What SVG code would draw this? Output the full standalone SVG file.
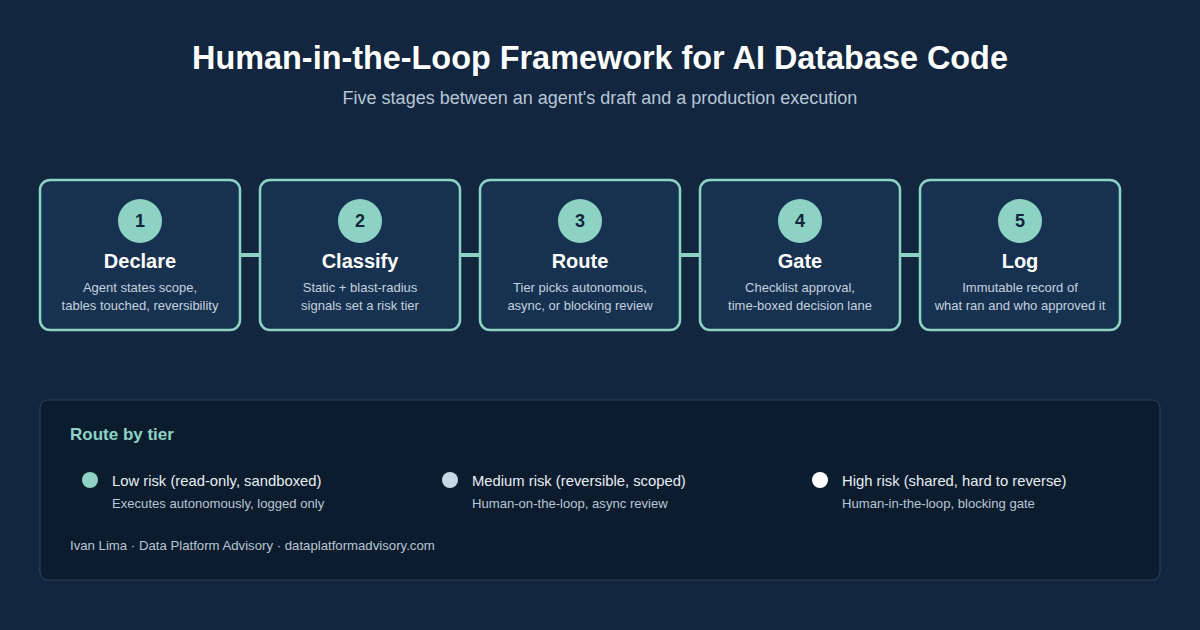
<svg xmlns="http://www.w3.org/2000/svg" width="1200" height="630" viewBox="0 0 1200 630">
<style>
text{font-family:"Liberation Sans",Arial,sans-serif}
.box{fill:#173251;stroke:#8dd3c3;stroke-width:2.5}
.num{fill:#8dd3c3}
.numt{font-size:18px;font-weight:bold;fill:#12263f;text-anchor:middle}
.ttl{font-size:20px;font-weight:bold;fill:#ffffff;text-anchor:middle}
.desc{font-size:13px;fill:#c5d1dd;text-anchor:middle}
.conn{stroke:#8dd3c3;stroke-width:4}
.leg{font-size:14.8px;fill:#e8eef4}
.sub{font-size:13.1px;fill:#b9c6d3}
</style>
<rect width="1200" height="630" fill="#12263f"/>
<text x="600" y="69" font-size="32.4" font-weight="bold" fill="#ffffff" text-anchor="middle">Human-in-the-Loop Framework for AI Database Code</text>
<text x="600" y="104" font-size="18" fill="#b8c7d6" text-anchor="middle">Five stages between an agent's draft and a production execution</text>
<g id="connectors">
<line class="conn" x1="241" y1="255" x2="259" y2="255"/>
<line class="conn" x1="461" y1="255" x2="479" y2="255"/>
<line class="conn" x1="681" y1="255" x2="699" y2="255"/>
<line class="conn" x1="901" y1="255" x2="919" y2="255"/>
</g>
<g id="stage1">
<rect class="box" x="40" y="180" width="200" height="150" rx="10"/>
<circle class="num" cx="140" cy="221" r="22"/>
<text class="numt" x="140" y="227">1</text>
<text class="ttl" x="140" y="268">Declare</text>
<text class="desc" x="140" y="292">Agent states scope,</text>
<text class="desc" x="140" y="310">tables touched, reversibility</text>
</g>
<g id="stage2">
<rect class="box" x="260" y="180" width="200" height="150" rx="10"/>
<circle class="num" cx="360" cy="221" r="22"/>
<text class="numt" x="360" y="227">2</text>
<text class="ttl" x="360" y="268">Classify</text>
<text class="desc" x="360" y="292">Static + blast-radius</text>
<text class="desc" x="360" y="310">signals set a risk tier</text>
</g>
<g id="stage3">
<rect class="box" x="480" y="180" width="200" height="150" rx="10"/>
<circle class="num" cx="580" cy="221" r="22"/>
<text class="numt" x="580" y="227">3</text>
<text class="ttl" x="580" y="268">Route</text>
<text class="desc" x="580" y="292">Tier picks autonomous,</text>
<text class="desc" x="580" y="310">async, or blocking review</text>
</g>
<g id="stage4">
<rect class="box" x="700" y="180" width="200" height="150" rx="10"/>
<circle class="num" cx="800" cy="221" r="22"/>
<text class="numt" x="800" y="227">4</text>
<text class="ttl" x="800" y="268">Gate</text>
<text class="desc" x="800" y="292">Checklist approval,</text>
<text class="desc" x="800" y="310">time-boxed decision lane</text>
</g>
<g id="stage5">
<rect class="box" x="920" y="180" width="200" height="150" rx="10"/>
<circle class="num" cx="1020" cy="221" r="22"/>
<text class="numt" x="1020" y="227">5</text>
<text class="ttl" x="1020" y="268">Log</text>
<text class="desc" x="1020" y="292">Immutable record of</text>
<text class="desc" x="1020" y="310">what ran and who approved it</text>
</g>
<g id="legend">
<rect x="40" y="400" width="1120" height="180" rx="8" fill="#0c1c2f" stroke="#2b3f56" stroke-width="1.2"/>
<text x="70" y="440" font-size="17" font-weight="bold" fill="#8dd3c3">Route by tier</text>
<circle cx="90" cy="480" r="8" fill="#8dd3c3"/>
<text class="leg" x="112" y="486">Low risk (read-only, sandboxed)</text>
<text class="sub" x="112" y="508">Executes autonomously, logged only</text>
<circle cx="450" cy="480" r="8" fill="#c8d8e4"/>
<text class="leg" x="472" y="486">Medium risk (reversible, scoped)</text>
<text class="sub" x="472" y="508">Human-on-the-loop, async review</text>
<circle cx="820" cy="480" r="8" fill="#ffffff"/>
<text class="leg" x="842" y="486">High risk (shared, hard to reverse)</text>
<text class="sub" x="842" y="508">Human-in-the-loop, blocking gate</text>
<text x="70" y="550" font-size="13.2" fill="#b9c6d3">Ivan Lima · Data Platform Advisory · dataplatformadvisory.com</text>
</g>
</svg>
